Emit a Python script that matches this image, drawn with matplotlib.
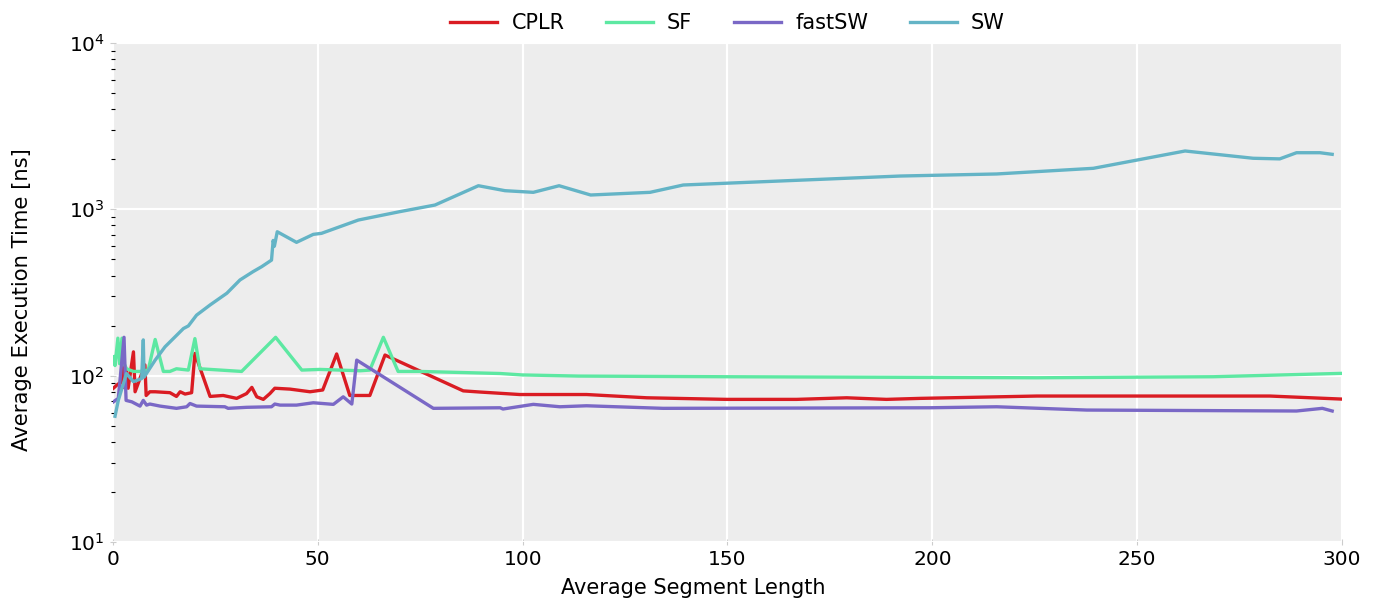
import matplotlib
matplotlib.use("Agg")
import matplotlib.pyplot as plt
from matplotlib.ticker import LogLocator, NullFormatter

# ---- data ----
sw_x = [0.5, 1.3, 3.3, 5.0, 7.0, 7.4, 7.6, 10.3, 12.7, 17.2, 18.4, 20.4, 23.7, 27.8,
        31.0, 34.2, 36.3, 38.7, 39.1, 39.4, 40.1, 44.8, 48.9, 50.9, 59.9, 70.0, 78.6,
        89.2, 95.7, 102.6, 108.9, 116.6, 131.1, 139.2, 192.1, 215.7, 239.3, 261.7,
        278.3, 284.8, 288.9, 294.6, 297.6]
sw_y = [57, 71, 103, 92, 96, 164, 98, 124, 149, 192, 199, 231, 266, 313,
        376, 422, 452, 495, 650, 600, 733, 633, 707, 717, 862, 968, 1061,
        1386, 1294, 1265, 1386, 1219, 1265, 1400, 1585, 1631, 1764, 2242,
        2027, 2010, 2189, 2189, 2141]

sf_x = [0.1, 0.5, 1.2, 1.6, 2.2, 2.6, 3.3, 5.0, 6.6, 8.6, 10.3, 12.3, 13.9, 15.5,
        18.4, 20.0, 21.2, 31.4, 39.7, 46.1, 50.5, 60.3, 62.7, 66.0, 69.6, 74.9,
        94.5, 99.8, 113.7, 149.8, 225.5, 268.6, 299.9]
sf_y = [130, 115, 168, 118, 168, 120, 110, 106, 106, 108, 165, 106, 106, 110,
        108, 167, 110, 106, 170, 108, 109, 107, 108, 170, 106, 106,
        103, 101, 99.4, 98.5, 97.1, 98.5, 103.2]

cplr_x = [0.1, 1.0, 2.1, 2.3, 2.5, 3.3, 3.7, 5.0, 5.4, 7.8, 8.1, 9.0, 10.3, 13.9,
          15.5, 16.4, 17.6, 19.2, 20.0, 23.7, 26.9, 30.2, 32.6, 33.9, 35.1, 36.7,
          38.3, 39.5, 43.2, 48.1, 51.2, 54.6, 57.8, 62.7, 66.4, 85.5, 89.6, 99.3,
          115.6, 130.3, 149.8, 166.9, 179.1, 188.8, 197.0, 225.5, 282.4, 299.9]
cplr_y = [84, 88, 92, 149, 85, 108, 84, 139, 80, 116, 76, 80, 80, 79,
          75, 80, 77.5, 79, 136, 75, 76, 73, 78, 85, 74.6, 72,
          78, 84, 83, 80, 82, 135, 76, 76, 133, 81, 79.7, 77,
          77, 73.6, 72, 72, 73.6, 72, 73, 75.4, 75.4, 72.3]

fsw_x = [0.1, 1.3, 2.7, 3.2, 4.6, 6.6, 7.4, 8.2, 9.0, 11.5, 15.5, 18.0, 18.8, 20.4,
         27.3, 28.1, 32.6, 38.7, 39.5, 40.8, 44.8, 48.9, 53.8, 56.2, 58.3, 59.5,
         78.2, 94.5, 95.2, 102.6, 109.1, 115.6, 134.3, 199.4, 215.7, 237.7, 288.9,
         295.2, 297.6]
fsw_y = [69.6, 73, 170, 71, 69.6, 65.6, 71, 66.5, 67.5, 65.6, 63.6, 65, 68, 65.6,
         65, 63.6, 64.5, 65, 67.5, 66.5, 66.5, 68.7, 67.2, 74.6, 67.5, 124,
         63.6, 64.1, 63, 67.2, 65, 65.9, 63.6, 64.1, 65, 62.1, 61.3,
         63.6, 61.3]

series_names = ["CPLR", "SF", "fastSW", "SW"]
colors = ["#da1c23", "#5de8a2", "#7a68c6", "#64b4c6"]

fig = plt.figure(figsize=(13.76, 6.01), dpi=100)
ax = fig.add_axes([0.0821, 0.0982, 0.8932, 0.8303])
ax.set_facecolor("#ededed")
for s in ax.spines.values():
    s.set_visible(False)

data = [(cplr_x, cplr_y), (sf_x, sf_y), (fsw_x, fsw_y), (sw_x, sw_y)]
for (xs, ys), name, c in zip(data, series_names, colors):
    ax.plot(xs, ys, color=c, lw=2.4, label=name, zorder=3)

ax.set_yscale("log")
ax.set_xlim(0, 300)
ax.set_ylim(10, 1e4)
ax.set_xticks([0, 50, 100, 150, 200, 250, 300])
ax.yaxis.set_minor_locator(LogLocator(base=10, subs=range(2, 10)))
ax.yaxis.set_minor_formatter(NullFormatter())
ax.grid(True, which="major", color="white", lw=1.6, zorder=1)
ax.set_axisbelow(True)
ax.tick_params(which="major", color="#cccccc", length=5, direction="inout", labelsize=14.5)
ax.tick_params(which="minor", axis="y", color="black", length=2.5, direction="inout", width=0.8)

ax.set_xlabel("Average Segment Length", fontsize=15)
ax.set_ylabel("Average Execution Time [ns]", fontsize=15.2)
ax.xaxis.label.set_va("center")
ax.yaxis.label.set_va("center")
ax.xaxis.set_label_coords(0.472, -0.092)
ax.yaxis.set_label_coords(-0.074, 0.485)

ax.legend(loc="center", bbox_to_anchor=(0.5, 1.040), ncol=4, frameon=False,
          fontsize=15, handlelength=2.26, handletextpad=0.67, columnspacing=2.0,
          borderpad=0, borderaxespad=0)

fig.savefig("out.png", dpi=100)
